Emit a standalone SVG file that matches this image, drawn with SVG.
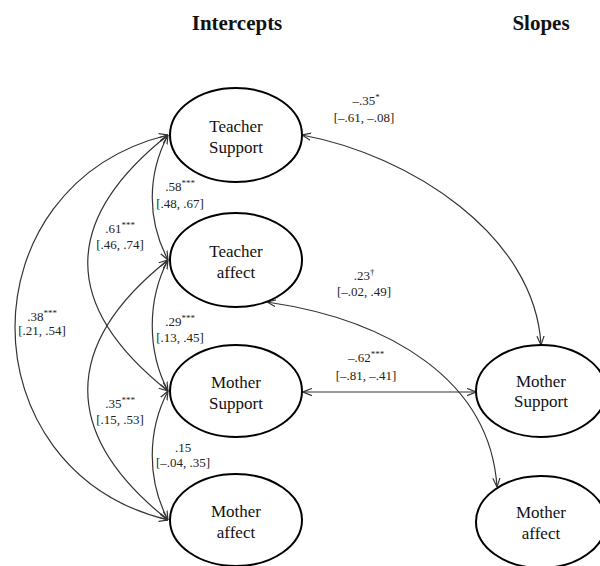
<svg xmlns="http://www.w3.org/2000/svg" width="600" height="566" viewBox="0 0 600 566">
<style>
.node ellipse{fill:#fff;stroke:#000;stroke-width:2}
.nt{font-family:"Liberation Serif","Times New Roman",serif;font-size:17px;fill:#111;text-anchor:middle}
.title{font-family:"Liberation Serif","Times New Roman",serif;font-size:21px;font-weight:bold;fill:#111;text-anchor:middle}
.lb{font-family:"Liberation Serif","Times New Roman",serif;font-size:13px;fill:#222;text-anchor:middle}
.sup{font-size:9px}
.conn path{fill:none;stroke:#333;stroke-width:1.2;marker-start:url(#ah);marker-end:url(#ah)}
</style>
<defs>
<marker id="ah" viewBox="0 0 10 10" refX="10" refY="5" markerWidth="9" markerHeight="9" markerUnits="userSpaceOnUse" orient="auto-start-reverse">
<path d="M0,1 L10,5 L0,9" fill="none" stroke="#333" stroke-width="1.3"/>
</marker>
</defs>
<rect width="600" height="566" fill="#fff"/>
<text class="title" x="237" y="30">Intercepts</text>
<text class="title" x="541" y="30">Slopes</text>

<g id="connectors" class="conn">
<path d="M168,135 C147,175 147,220 168,260"/>
<path d="M168,260 C147,300 147,351 168,391"/>
<path d="M168,391 C147,431 147,480 168,520"/>
<path d="M168,135 C61,220 61,306 168,391"/>
<path d="M168,260 C61,345 61,435 168,520"/>
<path d="M168,135 C-36,185 -36,470 168,520"/>
<path d="M302,135 C410,155 535,235 541,345"/>
<path d="M267,302 C390,320 490,380 497,487"/>
<path d="M303,392 L476,392"/>
</g>

<g id="labels">
<text class="lb" x="180" y="191">.58<tspan class="sup" dy="-5">***</tspan></text>
<text class="lb" x="180" y="208">[.48, .67]</text>
<text class="lb" x="120" y="233">.61<tspan class="sup" dy="-5">***</tspan></text>
<text class="lb" x="120" y="249">[.46, .74]</text>
<text class="lb" x="42" y="321">.38<tspan class="sup" dy="-5">***</tspan></text>
<text class="lb" x="42" y="335">[.21, .54]</text>
<text class="lb" x="180" y="326">.29<tspan class="sup" dy="-5">***</tspan></text>
<text class="lb" x="180" y="342">[.13, .45]</text>
<text class="lb" x="120" y="408">.35<tspan class="sup" dy="-5">***</tspan></text>
<text class="lb" x="120" y="424">[.15, .53]</text>
<text class="lb" x="183" y="452">.15</text>
<text class="lb" x="183" y="467">[–.04, .35]</text>
<text class="lb" x="366" y="105">–.35<tspan class="sup" dy="-5">*</tspan></text>
<text class="lb" x="364" y="122">[–.61, –.08]</text>
<text class="lb" x="364" y="280">.23<tspan class="sup" dy="-5">†</tspan></text>
<text class="lb" x="364" y="296">[–.02, .49]</text>
<text class="lb" x="366" y="362">–.62<tspan class="sup" dy="-5">***</tspan></text>
<text class="lb" x="366" y="380">[–.81, –.41]</text>
</g>

<g id="teacher-support-int" class="node">
<ellipse cx="236" cy="135" rx="66" ry="47"/>
<text class="nt" x="236" y="132">Teacher</text>
<text class="nt" x="236" y="153">Support</text>
</g>
<g id="teacher-affect-int" class="node">
<ellipse cx="236" cy="260" rx="66" ry="47"/>
<text class="nt" x="236" y="257">Teacher</text>
<text class="nt" x="236" y="278">affect</text>
</g>
<g id="mother-support-int" class="node">
<ellipse cx="236" cy="391" rx="66" ry="46"/>
<text class="nt" x="236" y="388">Mother</text>
<text class="nt" x="236" y="409">Support</text>
</g>
<g id="mother-affect-int" class="node">
<ellipse cx="236" cy="520" rx="66" ry="46"/>
<text class="nt" x="236" y="517">Mother</text>
<text class="nt" x="236" y="538">affect</text>
</g>
<g id="mother-support-slope" class="node">
<ellipse cx="541" cy="391" rx="65" ry="46"/>
<text class="nt" x="541" y="387">Mother</text>
<text class="nt" x="541" y="407">Support</text>
</g>
<g id="mother-affect-slope" class="node">
<ellipse cx="541" cy="522" rx="65" ry="46"/>
<text class="nt" x="541" y="518">Mother</text>
<text class="nt" x="541" y="539">affect</text>
</g>
</svg>
